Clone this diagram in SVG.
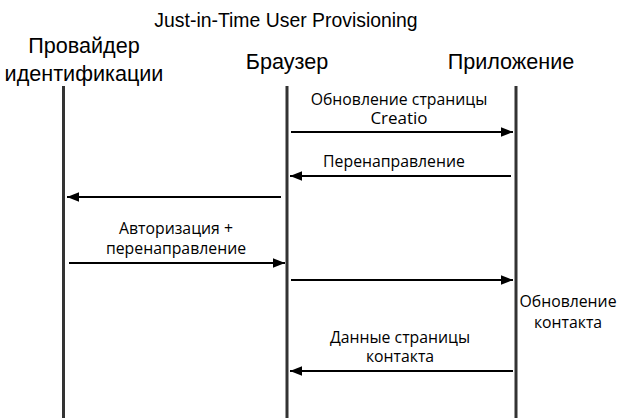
<svg xmlns="http://www.w3.org/2000/svg" width="625" height="418" viewBox="0 0 625 418">
<style>
.title{font-family:"Liberation Sans",Arial,sans-serif;font-size:19.4px;fill:#000;text-anchor:middle}
.head{font-family:"Liberation Sans",Arial,sans-serif;font-size:21.6px;fill:#000;text-anchor:middle}
.lbl{font-family:"Open Sans","Liberation Sans",sans-serif;font-size:15.8px;fill:#000;text-anchor:middle}
.life{stroke:#333;stroke-width:3;fill:none}
.msg{stroke:#000;stroke-width:2;fill:none;marker-end:url(#ah)}
</style>
<defs>
<marker id="ah" viewBox="0 0 10 10" refX="10" refY="5" markerWidth="6" markerHeight="6" markerUnits="strokeWidth" orient="auto">
<path d="M0,1 L10,5 L0,9 z" fill="#000"/>
</marker>
</defs>
<text class="title" x="286" y="27">Just-in-Time User Provisioning</text>
<g id="idp">
<text class="head" x="84" y="53">Провайдер</text>
<text class="head" x="84" y="81">идентификации</text>
<line class="life" x1="63.5" y1="86" x2="63.5" y2="418"/>
</g>
<g id="browser">
<text class="head" x="287" y="69">Браузер</text>
<line class="life" x1="287" y1="86" x2="287" y2="418"/>
</g>
<g id="app">
<text class="head" x="511" y="69">Приложение</text>
<line class="life" x1="516" y1="86" x2="516" y2="418"/>
</g>
<g id="connectors">
<line class="msg" x1="291" y1="132" x2="513" y2="132"/>
<text class="lbl" x="399" y="105">Обновление страницы</text>
<text class="lbl" x="399" y="124" style="font-size:17px">Creatio</text>
<line class="msg" x1="511" y1="176" x2="290" y2="176"/>
<text class="lbl" x="394" y="167">Перенаправление</text>
<line class="msg" x1="281" y1="197" x2="67" y2="197"/>
<line class="msg" x1="69" y1="263" x2="285" y2="263"/>
<text class="lbl" x="176" y="234">Авторизация +</text>
<text class="lbl" x="176" y="254">перенаправление</text>
<line class="msg" x1="291" y1="280" x2="513" y2="280"/>
<text class="lbl" x="568" y="307">Обновление</text>
<text class="lbl" x="568" y="328">контакта</text>
<line class="msg" x1="513" y1="371" x2="290" y2="371"/>
<text class="lbl" x="400" y="343">Данные страницы</text>
<text class="lbl" x="400" y="362">контакта</text>
</g>
</svg>
